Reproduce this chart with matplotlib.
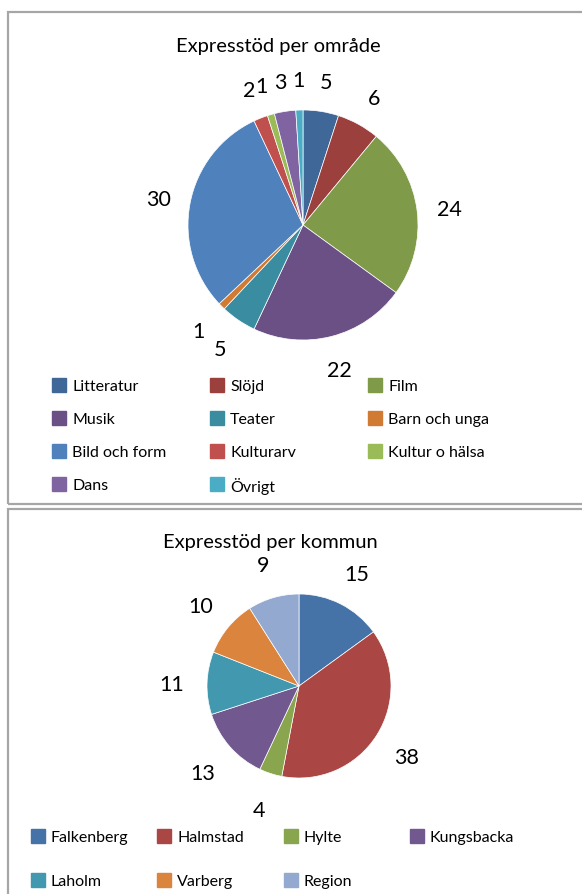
import matplotlib.pyplot as plt
from matplotlib.patches import Rectangle

plt.rcParams['font.family'] = ['Lato', 'DejaVu Sans']

# data
omrade_names = ["Litteratur", "Slöjd", "Film", "Musik", "Teater", "Barn och unga",
                "Bild och form", "Kulturarv", "Kultur o hälsa", "Dans", "Övrigt"]
omrade_values = [5, 6, 24, 22, 5, 1, 30, 2, 1, 3, 1]
omrade_colors = ["#3F6797", "#9C403D", "#7F9A48", "#6A5085", "#3A8CA1", "#D07A34",
                 "#4F81BD", "#C0504D", "#9BBB59", "#8064A2", "#4BACC6"]

kommun_names = ["Falkenberg", "Halmstad", "Hylte", "Kungsbacka", "Laholm", "Varberg", "Region"]
kommun_values = [15, 38, 4, 13, 11, 10, 9]
kommun_colors = ["#4572A7", "#AA4643", "#89A54E", "#71588F", "#4198AF", "#DB843D", "#93A9CF"]

W, H = 582, 895
fig = plt.figure(figsize=(W / 100, H / 100), dpi=100)


def fx(x):
    return x / W


def fy(y):
    return 1 - y / H


def pie_axes(cx, cy, r, lim=1.6):
    half = lim * r
    ax = fig.add_axes([fx(cx - half), fy(cy + half), 2 * half / W, 2 * half / H])
    return ax


def draw_pie(ax, values, colors, dist, lim=1.6):
    wedges, texts = ax.pie(values, colors=colors, labels=[str(v) for v in values],
                           startangle=90, counterclock=False, labeldistance=dist,
                           wedgeprops=dict(edgecolor="white", linewidth=0.5),
                           textprops=dict(fontsize=15.5, color="#000000"))
    for t in texts:
        t.set_ha("center")
        t.set_va("center_baseline")
    ax.set_xlim(-lim, lim)
    ax.set_ylim(-lim, lim)
    ax.set_aspect("equal")
    ax.axis("off")


def draw_legend(names, colors, x0, y0, dx, dy, ncol):
    for i, (n, c) in enumerate(zip(names, colors)):
        row, col = divmod(i, ncol)
        x = x0 + col * dx
        y = y0 + row * dy
        fig.patches.append(Rectangle((fx(x), fy(y + 7)), 14 / W, 14 / H,
                                     transform=fig.transFigure, color=c))
        fig.text(fx(x + 20), fy(y), n, fontsize=11.5, va="center_baseline", ha="left")


# frames
fig.patches.append(Rectangle((fx(8), fy(505)), fx(600) - fx(8), fy(13) - fy(505),
                             transform=fig.transFigure, fill=False,
                             edgecolor="#A6A6A6", linewidth=1.6))
fig.patches.append(Rectangle((fx(8), fy(910)), fx(600) - fx(8), fy(510) - fy(910),
                             transform=fig.transFigure, fill=False,
                             edgecolor="#A6A6A6", linewidth=1.6))

# top chart
fig.text(fx(278), fy(45), "Expresstöd per område", fontsize=14.5, ha="center",
         va="center_baseline")
ax1 = pie_axes(303, 226, 115)
draw_pie(ax1, omrade_values, omrade_colors, 1.28)
draw_legend(omrade_names, omrade_colors, 52, 386, 158, 33, 3)

# bottom chart
fig.text(fx(270), fy(541), "Expresstöd per kommun", fontsize=14.5, ha="center",
         va="center_baseline")
ax2 = pie_axes(299, 687, 92)
draw_pie(ax2, kommun_values, kommun_colors, 1.39)
draw_legend(kommun_names, kommun_colors, 31, 837, 126.3, 43.5, 4)

fig.savefig("out.png", dpi=100)
